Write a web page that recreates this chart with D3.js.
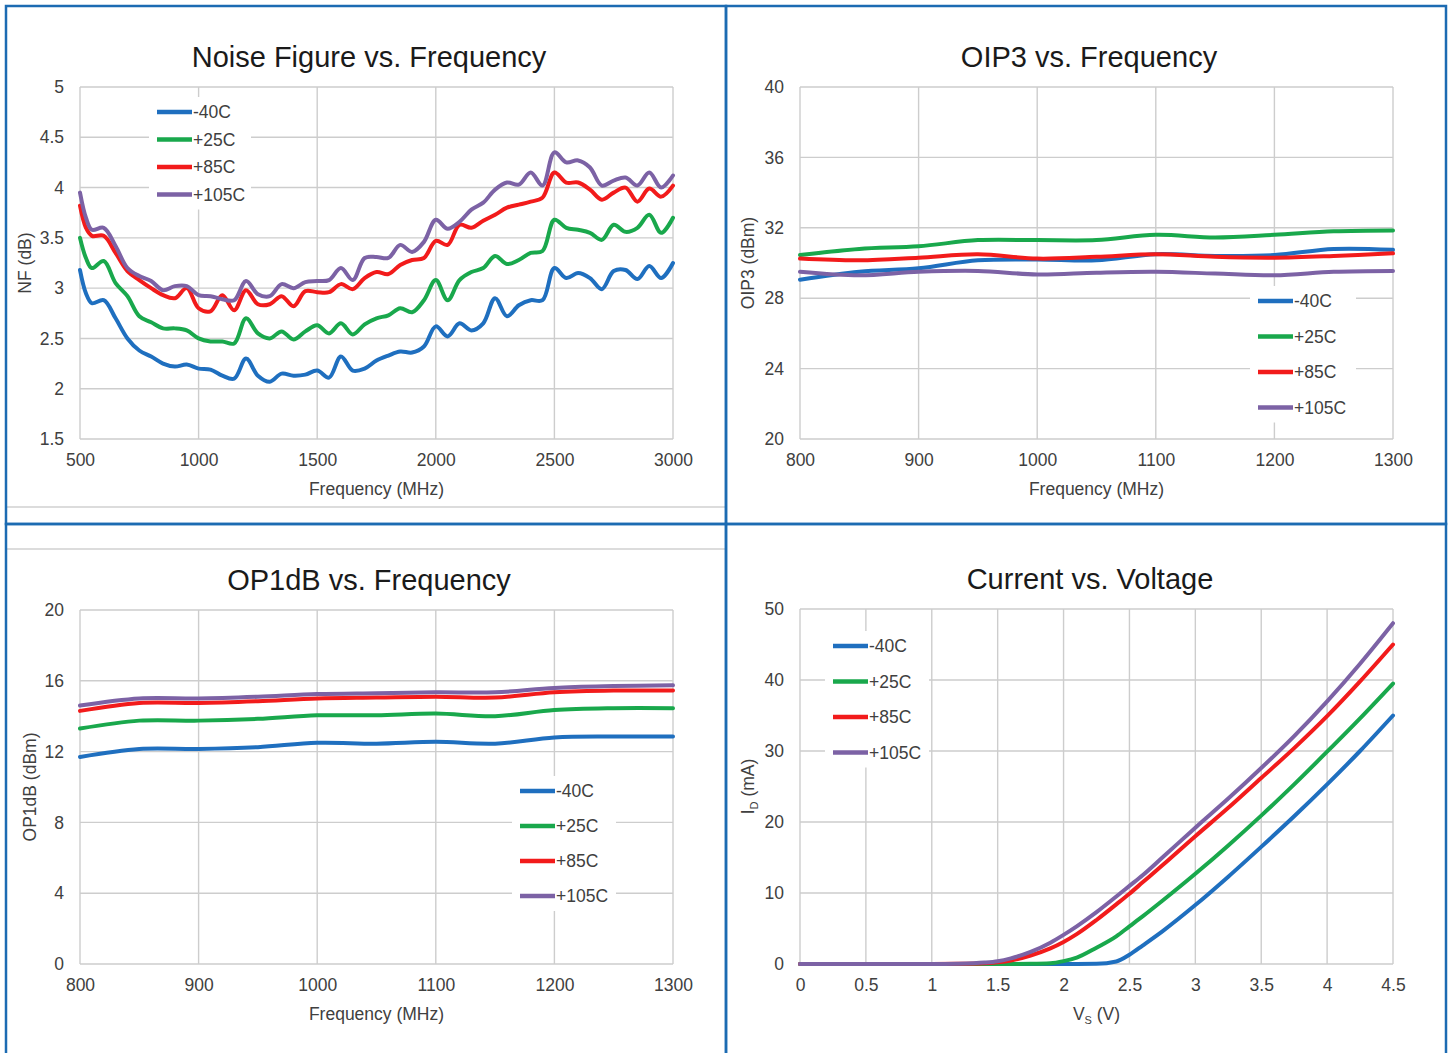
<!DOCTYPE html>
<html>
<head>
<meta charset="utf-8">
<script src="https://cdn.jsdelivr.net/npm/d3@7"></script>
<style>
body { margin: 0; background: #fff; }
svg text { font-family: "Liberation Sans", Arial, sans-serif; fill: #404040; }
</style>
</head>
<body>
<svg width="1450" height="1053"></svg>
<script>
var seriesNames = ["-40C", "+25C", "+85C", "+105C"],
    seriesColors = ["#1f6fbf", "#19a84c", "#f21b1b", "#7c62a5"];

// Noise figure vs frequency
var nfFreq = [500, 525, 550, 600, 650, 700, 750, 800, 850, 900, 950, 1000, 1050, 1100, 1150, 1200, 1250, 1300,
    1350, 1400, 1450, 1500, 1550, 1600, 1650, 1700, 1750, 1800, 1850, 1900, 1950, 2000, 2050, 2100, 2150, 2200,
    2250, 2300, 2350, 2400, 2450, 2500, 2550, 2600, 2650, 2700, 2750, 2800, 2850, 2900, 2950, 3000];
var nfM40 = [3.18, 2.95, 2.85, 2.88, 2.7, 2.5, 2.38, 2.32, 2.25, 2.22, 2.24, 2.2, 2.19, 2.13, 2.1, 2.3, 2.13, 2.07,
    2.15, 2.13, 2.14, 2.18, 2.11, 2.32, 2.18, 2.2, 2.28, 2.33, 2.37, 2.36, 2.42, 2.62, 2.52, 2.65, 2.58, 2.65,
    2.9, 2.72, 2.83, 2.88, 2.88, 3.2, 3.1, 3.15, 3.1, 2.99, 3.17, 3.18, 3.09, 3.22, 3.1, 3.25];
var nfP25 = [3.5, 3.3, 3.2, 3.27, 3.05, 2.92, 2.72, 2.66, 2.6, 2.6, 2.58, 2.5, 2.47, 2.47, 2.45, 2.7, 2.55, 2.5,
    2.57, 2.49, 2.57, 2.63, 2.55, 2.65, 2.54, 2.64, 2.7, 2.73, 2.8, 2.76, 2.88, 3.08, 2.88, 3.08, 3.16, 3.2,
    3.32, 3.24, 3.28, 3.35, 3.37, 3.68, 3.6, 3.58, 3.55, 3.48, 3.63, 3.56, 3.6, 3.73, 3.55, 3.7];
var nfP85 = [3.82, 3.6, 3.52, 3.52, 3.35, 3.17, 3.08, 3.0, 2.93, 2.9, 3.0, 2.8, 2.77, 2.93, 2.78, 2.98, 2.84, 2.84,
    2.92, 2.82, 2.97, 2.96, 2.96, 3.04, 2.99, 3.1, 3.16, 3.14, 3.23, 3.28, 3.3, 3.47, 3.43, 3.63, 3.6, 3.67,
    3.73, 3.8, 3.83, 3.86, 3.9, 4.15, 4.05, 4.05, 3.98, 3.88, 3.95, 4.0, 3.86, 3.99, 3.91, 4.02];
var nfP105 = [3.95, 3.7, 3.58, 3.6, 3.42, 3.2, 3.12, 3.07, 2.98, 3.02, 3.02, 2.93, 2.92, 2.89, 2.88, 3.07, 2.94, 2.92,
    3.04, 3.0, 3.06, 3.07, 3.08, 3.2, 3.08, 3.3, 3.31, 3.3, 3.43, 3.36, 3.46, 3.68, 3.59, 3.66, 3.78, 3.85,
    3.98, 4.05, 4.03, 4.15, 4.02, 4.35, 4.25, 4.27, 4.2, 4.02, 4.07, 4.1, 4.02, 4.15, 4.0, 4.12];
var nfXTicks = [500, 1000, 1500, 2000, 2500, 3000],
    nfYTicks = [1.5, 2, 2.5, 3, 3.5, 4, 4.5, 5];

// OIP3 / OP1dB vs frequency
var rfFreq = [800, 850, 900, 950, 1000, 1050, 1100, 1150, 1200, 1250, 1300];
var oipM40 = [29.05, 29.5, 29.7, 30.15, 30.2, 30.15, 30.5, 30.4, 30.45, 30.8, 30.75];
var oipP25 = [30.45, 30.8, 30.95, 31.3, 31.3, 31.3, 31.6, 31.45, 31.6, 31.8, 31.85];
var oipP85 = [30.25, 30.15, 30.3, 30.5, 30.25, 30.35, 30.5, 30.35, 30.3, 30.4, 30.55];
var oipP105 = [29.5, 29.3, 29.5, 29.55, 29.35, 29.45, 29.5, 29.4, 29.3, 29.5, 29.55];
var p1M40 = [11.7, 12.15, 12.15, 12.25, 12.5, 12.45, 12.55, 12.45, 12.8, 12.85, 12.85];
var p1P25 = [13.3, 13.75, 13.75, 13.85, 14.05, 14.05, 14.15, 14.0, 14.35, 14.45, 14.45];
var p1P85 = [14.3, 14.75, 14.75, 14.85, 15.0, 15.05, 15.1, 15.05, 15.35, 15.45, 15.45];
var p1P105 = [14.6, 15.0, 15.0, 15.1, 15.25, 15.3, 15.35, 15.35, 15.6, 15.7, 15.75];
var rfXTicks = [800, 900, 1000, 1100, 1200, 1300],
    oipYTicks = [20, 24, 28, 32, 36, 40],
    p1YTicks = [0, 4, 8, 12, 16, 20];

// Current vs voltage
var ivVolt = [0, 0.5, 1, 1.2, 1.4, 1.5, 1.6, 1.75, 1.9, 2, 2.1, 2.25, 2.4, 2.5, 2.6, 2.75, 3, 3.25, 3.5, 3.75, 4, 4.25, 4.5];
var ivM40 = [0, 0, 0, 0, 0, 0, 0, 0, 0, 0, 0, 0.02, 0.35, 1.3, 2.6, 4.6, 8.3, 12.3, 16.5, 20.8, 25.3, 30, 35];
var ivP25 = [0, 0, 0, 0, 0, 0, 0, 0.02, 0.1, 0.4, 0.9, 2.3, 3.9, 5.3, 6.7, 8.9, 12.7, 16.7, 20.9, 25.3, 29.9, 34.6, 39.5];
var ivP85 = [0, 0, 0, 0.02, 0.1, 0.25, 0.5, 1.2, 2.2, 3.1, 4.2, 6.2, 8.4, 9.9, 11.5, 13.9, 18, 22, 26.2, 30.4, 34.9, 39.8, 45];
var ivP105 = [0, 0, 0, 0.04, 0.2, 0.4, 0.8, 1.7, 3.0, 4.1, 5.3, 7.3, 9.5, 11, 12.5, 15, 19.2, 23.3, 27.6, 32.1, 37, 42.3, 48];
var ivXTicks = [0, 0.5, 1, 1.5, 2, 2.5, 3, 3.5, 4, 4.5],
    ivYTicks = [0, 10, 20, 30, 40, 50];

var svg = d3.select("svg"),
    gridColor = "#cdcdcd",
    frameColor = "#1c6bb2";

function drawPanel(o) {
    var g = svg.append("g");
    var x = d3.scaleLinear().domain(o.xDomain).range([o.left, o.right]),
        y = d3.scaleLinear().domain(o.yDomain).range([o.bottom, o.top]);

    // gridlines
    g.append("g").selectAll("line").data(o.xTicks).enter().append("line")
        .attr("x1", function(d) { return x(d); }).attr("x2", function(d) { return x(d); })
        .attr("y1", o.top).attr("y2", o.bottom)
        .attr("stroke", gridColor).attr("stroke-width", 1.4);
    g.append("g").selectAll("line").data(o.yTicks).enter().append("line")
        .attr("y1", function(d) { return y(d); }).attr("y2", function(d) { return y(d); })
        .attr("x1", o.left).attr("x2", o.right)
        .attr("stroke", gridColor).attr("stroke-width", 1.4);

    // legend box hides grid
    g.append("rect")
        .attr("x", o.legend.x - 8).attr("y", o.legend.y - 15)
        .attr("width", o.legend.w).attr("height", o.legend.step * 3 + 30)
        .attr("fill", "#fff");

    var line = d3.line()
        .x(function(d) { return x(d[0]); })
        .y(function(d) { return y(d[1]); })
        .curve(o.curve);

    o.series.forEach(function(vals, i) {
        g.append("path")
            .datum(o.xs.map(function(v, j) { return [v, vals[j]]; }))
            .attr("fill", "none")
            .attr("stroke", seriesColors[i])
            .attr("stroke-width", 4)
            .attr("stroke-linejoin", "round")
            .attr("stroke-linecap", "round")
            .attr("d", line);
    });

    // axes (labels only)
    var xa = g.append("g").attr("transform", "translate(0," + o.bottom + ")")
        .call(d3.axisBottom(x).tickValues(o.xTicks).tickSize(0).tickPadding(15).tickFormat(d3.format("")));
    var ya = g.append("g").attr("transform", "translate(" + o.left + ",0)")
        .call(d3.axisLeft(y).tickValues(o.yTicks).tickSize(0).tickPadding(16).tickFormat(d3.format("")));
    [xa, ya].forEach(function(a) {
        a.select(".domain").remove();
        a.selectAll("text").style("font-size", "17.5px").attr("fill", "#404040")
            .style("font-family", "'Liberation Sans', Arial, sans-serif");
    });

    // legend
    var lg = g.append("g").selectAll("g").data(seriesNames).enter().append("g")
        .attr("transform", function(d, i) {
            return "translate(" + o.legend.x + "," + (o.legend.y + i * o.legend.step) + ")";
        });
    lg.append("line").attr("x1", 0).attr("x2", 35).attr("y1", 0).attr("y2", 0)
        .attr("stroke", function(d, i) { return seriesColors[i]; })
        .attr("stroke-width", 4.5);
    lg.append("text").attr("x", 36).attr("dy", "0.35em")
        .style("font-size", "17.5px").text(function(d) { return d; });

    // titles
    g.append("text").attr("x", o.titleX).attr("y", o.top - 20)
        .attr("text-anchor", "middle").style("font-size", "29px").attr("fill", "#1a1a1a")
        .style("fill", "#1a1a1a").text(o.title);

    var xt = g.append("text").attr("x", (o.left + o.right) / 2).attr("y", o.bottom + 56)
        .attr("text-anchor", "middle").style("font-size", "17.5px");
    o.xLabel.forEach(function(p) {
        xt.append("tspan").text(p[0])
            .style("font-size", p[1] ? "11px" : "17.5px")
            .attr("dy", p[1] ? "4" : (p[2] ? "-4" : null));
    });
    var yt = g.append("text")
        .attr("transform", "translate(" + o.yLabelX + "," + ((o.top + o.bottom) / 2) + ") rotate(-90)")
        .attr("text-anchor", "middle").attr("dy", "0.35em").style("font-size", "17.5px");
    o.yLabel.forEach(function(p) {
        yt.append("tspan").text(p[0])
            .style("font-size", p[1] ? "11px" : "17.5px")
            .attr("dy", p[1] ? "4" : (p[2] ? "-4" : null));
    });
}

drawPanel({
    title: "Noise Figure vs. Frequency", titleX: 369,
    left: 80, right: 673, top: 87, bottom: 439,
    xDomain: [500, 3000], yDomain: [1.5, 5],
    xTicks: nfXTicks, yTicks: nfYTicks,
    xs: nfFreq, series: [nfM40, nfP25, nfP85, nfP105],
    curve: d3.curveCatmullRom.alpha(0.5),
    legend: {x: 157, y: 112, step: 27.5, w: 102},
    xLabel: [["Frequency (MHz)"]], yLabel: [["NF (dB)"]], yLabelX: 25
});

drawPanel({
    title: "OIP3 vs. Frequency", titleX: 1089,
    left: 800, right: 1393, top: 87, bottom: 439,
    xDomain: [800, 1300], yDomain: [20, 40],
    xTicks: rfXTicks, yTicks: oipYTicks,
    xs: rfFreq, series: [oipM40, oipP25, oipP85, oipP105],
    curve: d3.curveCatmullRom.alpha(0.5),
    legend: {x: 1258, y: 301, step: 35.5, w: 106},
    xLabel: [["Frequency (MHz)"]], yLabel: [["OIP3 (dBm)"]], yLabelX: 748
});

drawPanel({
    title: "OP1dB vs. Frequency", titleX: 369,
    left: 80, right: 673, top: 610, bottom: 964,
    xDomain: [800, 1300], yDomain: [0, 20],
    xTicks: rfXTicks, yTicks: p1YTicks,
    xs: rfFreq, series: [p1M40, p1P25, p1P85, p1P105],
    curve: d3.curveCatmullRom.alpha(0.5),
    legend: {x: 520, y: 791, step: 35, w: 104},
    xLabel: [["Frequency (MHz)"]], yLabel: [["OP1dB (dBm)"]], yLabelX: 30
});

drawPanel({
    title: "Current vs. Voltage", titleX: 1090,
    left: 800, right: 1393, top: 609, bottom: 964,
    xDomain: [0, 4.5], yDomain: [0, 50],
    xTicks: ivXTicks, yTicks: ivYTicks,
    xs: ivVolt, series: [ivM40, ivP25, ivP85, ivP105],
    curve: d3.curveMonotoneX,
    legend: {x: 833, y: 646, step: 35.5, w: 104},
    xLabel: [["V"], ["S", true], [" (V)", false, true]],
    yLabel: [["I"], ["D", true], [" (mA)", false, true]], yLabelX: 748
});

// Excel chart-area edges
svg.append("line").attr("x1", 7).attr("x2", 726).attr("y1", 507).attr("y2", 507)
    .attr("stroke", "#d0d0d0").attr("stroke-width", 1.5);
svg.append("line").attr("x1", 7).attr("x2", 726).attr("y1", 549).attr("y2", 549)
    .attr("stroke", "#d0d0d0").attr("stroke-width", 1.5);

// blue panel frames
var frames = [[6, 6, 720, 518], [726, 6, 720, 518], [6, 524, 720, 540], [726, 524, 720, 540]];
svg.append("g").selectAll("rect").data(frames).enter().append("rect")
    .attr("x", function(d) { return d[0]; }).attr("y", function(d) { return d[1]; })
    .attr("width", function(d) { return d[2]; }).attr("height", function(d) { return d[3]; })
    .attr("fill", "none").attr("stroke", frameColor).attr("stroke-width", 2.5);
</script>
</body>
</html>
